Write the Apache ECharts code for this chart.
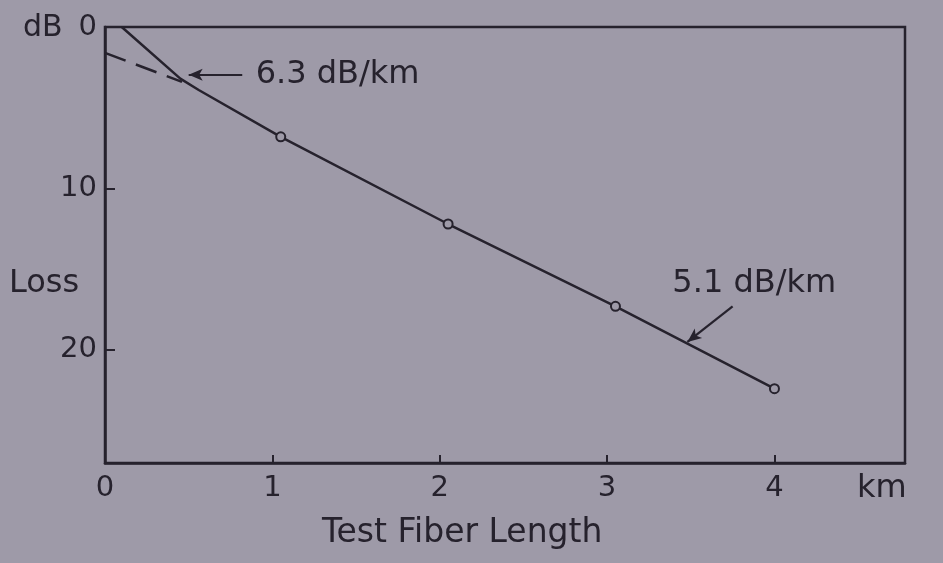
<!DOCTYPE html>
<html>
<head>
<meta charset="utf-8">
<script src="https://cdn.jsdelivr.net/npm/echarts@6/dist/echarts.min.js"></script>
<style>
html,body{margin:0;padding:0;background:#9e9aa8;}
#chart{width:943px;height:563px;}
</style>
</head>
<body>
<div id="chart"></div>
<script>
// Measured cutback points (km, dB)
var measuredKm = [1.05, 2.05, 3.05, 4.0];
var measuredLoss = [6.8, 12.2, 17.3, 22.4];
// Initial (steeper) part of the loss curve, ending at first measured point
var curveKm = [0.1, 0.45, 0.56, 1.05];
var curveLoss = [0.0, 3.2, 3.9, 6.8];
// Dashed extrapolation of the linear part back to zero length
var extrapKm = [0.0, 0.46];
var extrapLoss = [1.6, 3.4];
// Slope annotations
var annoText = ['6.3 dB/km', '5.1 dB/km'];
var annoKm = [0.9, 3.39];
var annoLoss = [2.95, 15.9];
var arrowFromKm = [0.82, 3.75];
var arrowFromLoss = [2.95, 17.3];
var arrowToKm = [0.5, 3.48];
var arrowToLoss = [2.95, 19.5];
// Axis ticks
var xTicks = [0, 1, 2, 3, 4];
var yTicks = [0, 10, 20];

var ink = '#26222d';
var font = 'DejaVu Sans';

function zip(a, b) { return a.map(function (v, i) { return [v, b[i]]; }); }
function txt(t, x, y, size) {
  return { type: 'text', x: x, y: y, style: { text: t, fill: ink, fontFamily: font, fontSize: size, align: 'left', verticalAlign: 'middle' } };
}

var chart = echarts.init(document.getElementById('chart'));
chart.setOption({
  backgroundColor: '#9e9aa8',
  animation: false,
  grid: { left: 105, right: 38, top: 27, bottom: 100, show: true, borderColor: ink, borderWidth: 2.5, backgroundColor: 'transparent' },
  xAxis: {
    type: 'value', min: 0, max: 4.78, interval: 1,
    axisLine: { show: true, onZero: false, lineStyle: { color: ink, width: 2.5 } },
    axisTick: { show: true, inside: true, length: 8, customValues: [1, 2, 3, 4], lineStyle: { color: ink, width: 2 } },
    axisLabel: { customValues: xTicks, margin: 11, color: ink, fontFamily: font, fontSize: 29,
      formatter: function (v) { return xTicks.indexOf(v) >= 0 ? String(v) : ''; } },
    splitLine: { show: false }
  },
  yAxis: {
    type: 'value', inverse: true, min: 0, max: 27, interval: 10,
    axisLine: { show: true, onZero: false, lineStyle: { color: ink, width: 2.5 } },
    axisTick: { show: true, inside: true, length: 10, customValues: [10, 20], lineStyle: { color: ink, width: 2 } },
    axisLabel: { customValues: yTicks, margin: 8, color: ink, fontFamily: font, fontSize: 29,
      formatter: function (v) { return yTicks.indexOf(v) >= 0 ? String(v) : ''; } },
    splitLine: { show: false }
  },
  graphic: [
    txt('dB', 23, 28, 30),
    txt('Loss', 9, 284, 32),
    txt('km', 857, 489, 32),
    txt('Test Fiber Length', 322, 533, 33)
  ],
  series: [
    {
      name: 'curve', type: 'line', data: zip(curveKm, curveLoss), showSymbol: false, symbol: 'none',
      lineStyle: { color: ink, width: 2.5 }, z: 3
    },
    {
      name: 'extrapolation', type: 'line', data: zip(extrapKm, extrapLoss), symbol: 'none',
      lineStyle: { color: ink, width: 2.5, type: [22, 11] }, z: 3
    },
    {
      name: 'measured', type: 'line', data: zip(measuredKm, measuredLoss),
      symbol: 'circle', symbolSize: 9,
      itemStyle: { color: '#9e9aa8', borderColor: ink, borderWidth: 2 },
      lineStyle: { color: ink, width: 2.5 }, z: 4
    },
    {
      name: 'annotations', type: 'scatter', symbolSize: 0,
      itemStyle: { opacity: 1, color: ink },
      data: annoText.map(function (t, i) { return [annoKm[i], annoLoss[i], t]; }),
      label: { show: true, position: 'right', distance: 0, color: ink, opacity: 1, fontFamily: font, fontSize: 32,
        formatter: function (p) { return p.value[2]; } },
      markLine: {
        silent: true, symbol: ['none', 'arrow'], symbolSize: [9, 14],
        lineStyle: { color: ink, width: 2.2, type: 'solid', opacity: 1 }, label: { show: false },
        data: arrowFromKm.map(function (x, i) {
          return [{ coord: [x, arrowFromLoss[i]] }, { coord: [arrowToKm[i], arrowToLoss[i]] }];
        })
      }, z: 5
    }
  ]
});
</script>
</body>
</html>
